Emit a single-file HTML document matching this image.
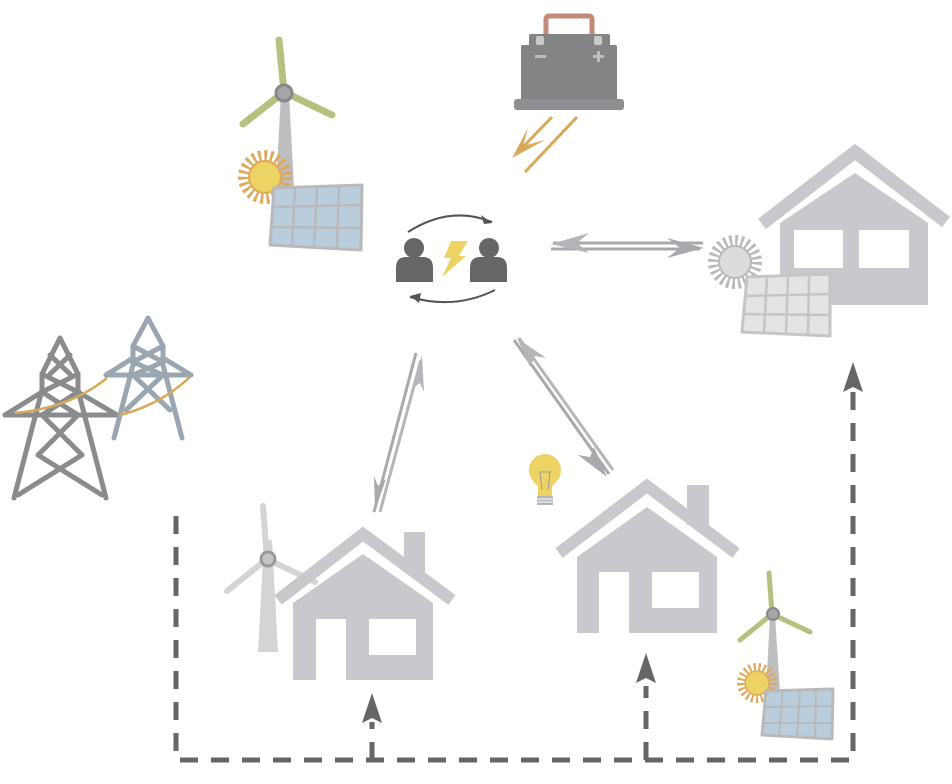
<!DOCTYPE html>
<html><head><meta charset="utf-8"><style>html,body{margin:0;padding:0;background:#fff}svg{display:block}</style></head>
<body>
<svg width="952" height="784" viewBox="0 0 952 784" xmlns="http://www.w3.org/2000/svg">

<!-- top-left turbine -->
<polygon points="281,93 289,93 294,188 276,188" fill="#bdbec0"/>
<line x1="284" y1="92" x2="279" y2="40" stroke="#b7c07e" stroke-width="7" stroke-linecap="round"/>
<line x1="284" y1="92" x2="243" y2="124" stroke="#b7c07e" stroke-width="7" stroke-linecap="round"/>
<line x1="284" y1="92" x2="332" y2="115" stroke="#b7c07e" stroke-width="7" stroke-linecap="round"/>
<circle cx="284" cy="93" r="8" fill="#a5a6a8" stroke="#87888a" stroke-width="3"/>
<circle cx="265" cy="177" r="20" fill="none" stroke="#dea95a" stroke-width="14" stroke-dasharray="2.5 3"/>
<circle cx="265" cy="177" r="16" fill="#edd264" stroke="#dea95a" stroke-width="2"/>
<polygon points="274,188 362,185 361,250 270,245" fill="#b9cddc" stroke="#b9b9bb" stroke-width="3" stroke-linejoin="round"/>
<g stroke="#b9b9bb" stroke-width="2.5">
<line x1="273" y1="207" x2="362" y2="205"/><line x1="271" y1="227" x2="361" y2="228"/>
<line x1="295" y1="187" x2="292" y2="247"/><line x1="317" y1="186" x2="314" y2="248"/><line x1="339" y1="186" x2="337" y2="249"/>
</g>

<!-- battery -->
<rect x="546" y="16" width="46" height="22" rx="3" fill="none" stroke="#c48a78" stroke-width="5"/>
<rect x="529" y="34" width="81" height="14" rx="2" fill="#838486"/>
<rect x="521" y="45" width="96" height="56" rx="2" fill="#838486"/>
<rect x="514" y="99" width="110" height="11" rx="3" fill="#8e8f92"/>
<rect x="536" y="36" width="8" height="9" rx="2" fill="#c9c9cb"/>
<rect x="594" y="36" width="8" height="9" rx="2" fill="#c9c9cb"/>
<rect x="535" y="55" width="11" height="3" fill="#bdbdbf"/>
<rect x="593" y="55" width="11" height="3" fill="#bdbdbf"/><rect x="597" y="51" width="3" height="11" fill="#bdbdbf"/>
<line x1="577" y1="117" x2="525" y2="172" stroke="#d9a95a" stroke-width="3"/>
<line x1="552" y1="117" x2="520" y2="150" stroke="#d9a95a" stroke-width="3"/>
<polygon points="512,158 528,128 523,146 545,140" fill="#d9a95a"/>

<!-- center people -->
<path d="M408,232 Q450,205 492,222" fill="none" stroke="#555" stroke-width="2"/>
<polygon points="492,223 481,215 484,224" fill="#555"/>
<path d="M495,290 Q455,310 410,297" fill="none" stroke="#555" stroke-width="2"/>
<polygon points="410,296 421,293 419,303" fill="#555"/>
<circle cx="414" cy="248" r="10" fill="#666"/>
<path d="M396,282 L396,268 Q396,257 406,257 L423,257 Q433,257 433,268 L433,282 Z" fill="#666"/>
<circle cx="489" cy="248" r="10" fill="#666"/>
<path d="M470,282 L470,268 Q470,257 480,257 L497,257 Q507,257 507,268 L507,282 Z" fill="#666"/>
<polygon points="451,241 468,241 459,256 466,256 442,277 451,258 444,258" fill="#edd264"/>

<!-- horizontal double arrow -->
<line x1="553" y1="243" x2="703" y2="243" stroke="#a8a9ac" stroke-width="3"/>
<line x1="551" y1="249" x2="700" y2="249" stroke="#a8a9ac" stroke-width="3"/>
<polygon points="551,244 589,233 577,243 589,253" fill="#b5b6b9"/>
<polygon points="704,248 667,238 680,248 667,258" fill="#a8a9ac"/>

<!-- right house -->
<polyline points="762,224 855,152 946,222" fill="none" stroke="#c8c9cc" stroke-width="13"/>
<polygon points="855,173 928,223 928,305 780,305 780,223" fill="#c8c9cc"/>
<rect x="794" y="230" width="49" height="38" fill="#fff"/>
<rect x="859" y="230" width="50" height="38" fill="#fff"/>
<circle cx="735" cy="262" r="21" fill="none" stroke="#b8b9bb" stroke-width="12" stroke-dasharray="2.5 3"/>
<circle cx="735" cy="262" r="16" fill="#dcdcde" stroke="#b8b9bb" stroke-width="2"/>
<polygon points="747,277 830,274 830,336 742,332" fill="#e4e4e5" stroke="#c4c5c7" stroke-width="3" stroke-linejoin="round"/>
<g stroke="#c4c5c7" stroke-width="2.5">
<line x1="745" y1="296" x2="830" y2="294"/><line x1="744" y1="314" x2="830" y2="315"/>
<line x1="767" y1="276" x2="764" y2="333"/><line x1="788" y1="275" x2="786" y2="334"/><line x1="809" y1="275" x2="808" y2="335"/>
</g>

<!-- towers -->
<g fill="none" stroke="#8a8b8d" stroke-width="5" stroke-linecap="round" stroke-linejoin="round">
<polyline points="14,498 42,390 42,374 60,338 78,374 78,390 106,498"/>
<line x1="5" y1="415" x2="117" y2="415"/>
<line x1="42" y1="392" x2="5" y2="415"/><line x1="78" y1="392" x2="117" y2="415"/>
<line x1="42" y1="374" x2="78" y2="392"/><line x1="78" y1="374" x2="42" y2="392"/>
<line x1="42" y1="392" x2="78" y2="415"/><line x1="78" y1="392" x2="42" y2="415"/>
<line x1="42" y1="415" x2="82" y2="455"/><line x1="78" y1="415" x2="38" y2="455"/>
<line x1="38" y1="455" x2="102" y2="495"/><line x1="82" y1="455" x2="18" y2="495"/>
<line x1="50" y1="355" x2="70" y2="374"/><line x1="70" y1="355" x2="50" y2="374"/>
</g>
<path d="M15,413 Q70,408 107,378" fill="none" stroke="#d9a95a" stroke-width="2.5"/>
<g fill="none" stroke="#9aa6b0" stroke-width="5" stroke-linecap="round" stroke-linejoin="round">
<polyline points="114,438 133,365 133,346 148,318 163,346 163,365 182,438"/>
<line x1="106" y1="375" x2="191" y2="375"/>
<line x1="133" y1="358" x2="106" y2="375"/><line x1="163" y1="358" x2="191" y2="375"/>
<line x1="133" y1="346" x2="163" y2="362"/><line x1="163" y1="346" x2="133" y2="362"/>
<line x1="133" y1="362" x2="163" y2="375"/><line x1="163" y1="362" x2="133" y2="375"/>
<line x1="133" y1="375" x2="170" y2="410"/><line x1="163" y1="375" x2="126" y2="410"/>
</g>
<path d="M120,415 Q160,405 190,377" fill="none" stroke="#d9a95a" stroke-width="2.5"/>

<!-- diagonal arrows -->
<line x1="416" y1="353" x2="374" y2="512" stroke="#a8a9ac" stroke-width="3"/>
<line x1="421" y1="360" x2="380" y2="512" stroke="#b5b6b9" stroke-width="3"/>
<polygon points="422,355 424,392 420,383 413,388" fill="#b5b6b9"/>
<polygon points="375,510 374,476 378,486 386,479" fill="#a8a9ac"/>
<line x1="514" y1="340" x2="609" y2="474" stroke="#a8a9ac" stroke-width="3"/>
<line x1="519" y1="338" x2="613" y2="470" stroke="#b5b6b9" stroke-width="3"/>
<polygon points="517,338 546,358 535,356 530,367" fill="#b5b6b9"/>
<polygon points="607,477 578,455 590,457 594,447" fill="#a8a9ac"/>

<!-- bottom-left turbine -->
<polygon points="264,540 272,540 278,652 258,652" fill="#d3d4d6"/>
<line x1="267" y1="559" x2="263" y2="506" stroke="#d3d4d6" stroke-width="6" stroke-linecap="round"/>
<line x1="267" y1="559" x2="227" y2="591" stroke="#d3d4d6" stroke-width="6" stroke-linecap="round"/>
<line x1="267" y1="559" x2="315" y2="582" stroke="#d3d4d6" stroke-width="6" stroke-linecap="round"/>
<circle cx="268" cy="559" r="7" fill="#c4c5c7" stroke="#98999b" stroke-width="3"/>
<rect x="404" y="532" width="21" height="40" fill="#c8c9cc"/>
<polyline points="278,600 363,534 452,600" fill="none" stroke="#c8c9cc" stroke-width="12"/>
<polygon points="363,554 433,603 433,680 293,680 293,603" fill="#c8c9cc"/>
<rect x="316" y="619" width="30" height="62" fill="#fff"/>
<rect x="369" y="619" width="47" height="36" fill="#fff"/>

<!-- bulb -->
<path d="M538,496 L538,486 Q529,479 529,470 A16,16 0 0 1 561,470 Q561,479 552,486 L552,496 Z" fill="#edd264"/>
<path d="M540,472 L542,490 M550,472 L548,490 M539,472 L551,472" stroke="#999" stroke-width="1" fill="none"/>
<rect x="537" y="496" width="16" height="9" fill="#b5b6b9"/>
<line x1="537" y1="499" x2="553" y2="499" stroke="#fff" stroke-width="1"/><line x1="537" y1="502" x2="553" y2="502" stroke="#fff" stroke-width="1"/>

<!-- bottom-middle house -->
<rect x="687" y="485" width="22" height="40" fill="#c8c9cc"/>
<polyline points="559,553 647,486 736,553" fill="none" stroke="#c8c9cc" stroke-width="12"/>
<polygon points="647,507 717,557 717,633 577,633 577,557" fill="#c8c9cc"/>
<rect x="599" y="572" width="30" height="62" fill="#fff"/>
<rect x="652" y="572" width="47" height="36" fill="#fff"/>

<!-- small turbine -->
<polygon points="770,615 775,615 780,692 766,692" fill="#bdbec0"/>
<line x1="772" y1="614" x2="769" y2="573" stroke="#b7c07e" stroke-width="5" stroke-linecap="round"/>
<line x1="772" y1="614" x2="740" y2="640" stroke="#b7c07e" stroke-width="5" stroke-linecap="round"/>
<line x1="772" y1="614" x2="810" y2="632" stroke="#b7c07e" stroke-width="5" stroke-linecap="round"/>
<circle cx="773" cy="614" r="6" fill="#a5a6a8" stroke="#87888a" stroke-width="2"/>
<circle cx="757" cy="683" r="15" fill="none" stroke="#dea95a" stroke-width="10" stroke-dasharray="2 2.5"/>
<circle cx="757" cy="683" r="12" fill="#edd264" stroke="#dea95a" stroke-width="1.5"/>
<polygon points="766,691 833,689 832,739 762,735" fill="#b9cddc" stroke="#b9b9bb" stroke-width="3" stroke-linejoin="round"/>
<g stroke="#b9b9bb" stroke-width="2">
<line x1="765" y1="707" x2="833" y2="706"/><line x1="763" y1="723" x2="832" y2="723"/>
<line x1="783" y1="690" x2="779" y2="736"/><line x1="800" y1="690" x2="797" y2="737"/><line x1="816" y1="689" x2="815" y2="738"/>
</g>

<!-- dashed lines -->
<g fill="none" stroke="#666" stroke-width="5" stroke-dasharray="18 13">
<polyline points="176,516 176,760 853,760 853,392"/>
<line x1="372" y1="760" x2="372" y2="722"/>
<line x1="646" y1="760" x2="646" y2="686"/>
</g>
<polygon points="372,693 382,723 372,718 362,723" fill="#666"/>
<polygon points="646,653 656,683 646,678 636,683" fill="#666"/>
<polygon points="853,362 863,392 853,387 843,392" fill="#666"/>
</svg>
</body></html>
